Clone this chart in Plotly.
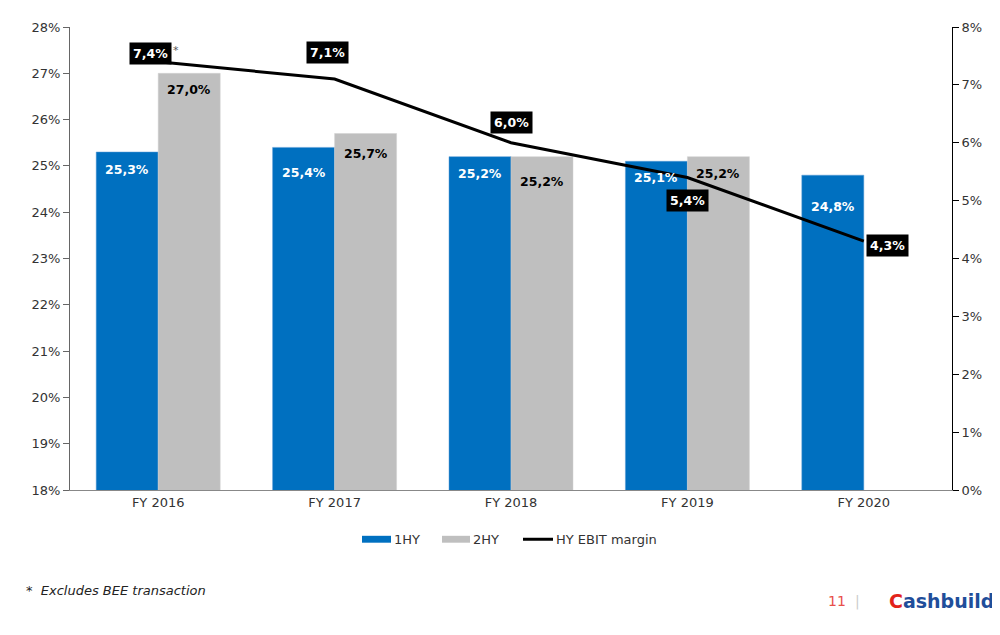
import plotly.graph_objects as go

# ---- data ----
categories = ["FY 2016", "FY 2017", "FY 2018", "FY 2019", "FY 2020"]
hy1 = [25.3, 25.4, 25.2, 25.1, 24.8]
hy2 = [27.0, 25.7, 25.2, 25.2, None]
ebit_margin = [7.4, 7.1, 6.0, 5.4, 4.3]
left_ticks = [18, 19, 20, 21, 22, 23, 24, 25, 26, 27, 28]
right_ticks = [0, 1, 2, 3, 4, 5, 6, 7, 8]
series_names = ["1HY", "2HY", "HY EBIT margin"]

def fmt(v):
    return f"{v:.1f}%".replace(".", ",")

# ---- styles ----
BLUE = "#0070C0"
GRAY = "#BFBFBF"
FONT = "DejaVu Sans"
hy1_label_drop = [17, 25, 17, 16, 31]
hy2_label_drop = [16, 20, 25, 17]
line_label_shift = [(-8, 8), (-7, 27), (0, 20), (0, -23), (24, -4)]
bar_half = 31

# page offset (browser body margin)
OFF = 8
W, H = 1000 - OFF, 635 - OFF
l, r, t, b = 70 - OFF, 48, 20 - OFF, 145
pw, ph = W - l - r, H - t - b
def px(x): return (x - OFF - l) / pw
def py(y): return (H - b - (y - OFF)) / ph

fig = go.Figure()
fig.add_trace(go.Bar(x=categories, y=hy1, name=series_names[0],
                     marker=dict(color=BLUE, line=dict(color="#5B9BD5", width=0.5))))
fig.add_trace(go.Bar(x=categories, y=hy2, name=series_names[1],
                     marker=dict(color=GRAY, line=dict(color="#D0D0D0", width=0.5))))
fig.add_trace(go.Scatter(x=categories, y=ebit_margin, name=series_names[2], mode="lines",
                         line=dict(color="black", width=3), yaxis="y2"))

annotations = []
for i, (c, v) in enumerate(zip(categories, hy1)):
    annotations.append(dict(x=c, y=v, xref="x", yref="y", text=f"<b>{fmt(v)}</b>", showarrow=False,
                            xshift=-bar_half, yshift=-hy1_label_drop[i], yanchor="middle",
                            font=dict(family=FONT, size=12.5, color="white")))
for i, (c, v) in enumerate(zip(categories, hy2)):
    if v is None:
        continue
    annotations.append(dict(x=c, y=v, xref="x", yref="y", text=f"<b>{fmt(v)}</b>", showarrow=False,
                            xshift=bar_half, yshift=-hy2_label_drop[i], yanchor="middle",
                            font=dict(family=FONT, size=12.5, color="black")))
for i, (c, v) in enumerate(zip(categories, ebit_margin)):
    dx, dy = line_label_shift[i]
    annotations.append(dict(x=c, y=v, xref="x", yref="y2", text=f"<b>{fmt(v)}</b>", showarrow=False,
                            xshift=dx, yshift=dy, yanchor="middle", bgcolor="black", borderpad=3,
                            font=dict(family=FONT, size=12.5, color="white")))
annotations.append(dict(x=categories[0], y=ebit_margin[0], xref="x", yref="y2", text="*", showarrow=False,
                        xshift=18, yshift=11, font=dict(family=FONT, size=11, color="#555555")))
# footnote
annotations.append(dict(x=px(24), y=py(592), xref="paper", yref="paper",
                        text="<i>*  Excludes BEE transaction</i>", showarrow=False,
                        xanchor="left", yanchor="middle", font=dict(family=FONT, size=13, color="#222222")))
# page number and logo
annotations.append(dict(x=px(848), y=py(603), xref="paper", yref="paper", text="11", showarrow=False,
                        xanchor="right", yanchor="middle", font=dict(family=FONT, size=14, color="#E8504A")))
annotations.append(dict(x=px(857), y=py(603), xref="paper", yref="paper", text="|", showarrow=False,
                        xanchor="center", yanchor="middle", font=dict(family=FONT, size=14, color="#CCCCCC")))
annotations.append(dict(x=px(996), y=py(603), xref="paper", yref="paper",
                        text="<b><span style='color:#E2231A'>C</span>ashbuild</b>", showarrow=False,
                        xanchor="right", yanchor="middle", font=dict(family=FONT, size=19, color="#1F4E9A")))

# custom legend (wide swatches like the reference)
shapes = []
leg_y = 540
leg_items = [(362, 391, "rect", BLUE), (442, 470, "rect", GRAY), (523, 553, "line", "black")]
for (x0, x1, kind, col), name in zip(leg_items, series_names):
    if kind == "rect":
        shapes.append(dict(type="rect", xref="paper", yref="paper", x0=px(x0), x1=px(x1),
                           y0=py(leg_y + 3.5), y1=py(leg_y - 3.5), fillcolor=col, line=dict(width=0)))
    else:
        shapes.append(dict(type="line", xref="paper", yref="paper", x0=px(x0), x1=px(x1),
                           y0=py(leg_y), y1=py(leg_y), line=dict(color=col, width=3)))
    annotations.append(dict(x=px(x1 + 1), y=py(leg_y), xref="paper", yref="paper", text=name,
                            showarrow=False, xanchor="left", yanchor="middle",
                            font=dict(family=FONT, size=13, color="#333333")))

fig.update_layout(
    width=W, height=H,
    margin=dict(l=l, r=r, t=t, b=b),
    paper_bgcolor="white", plot_bgcolor="white",
    barmode="group", bargap=0.297, bargroupgap=0,
    font=dict(family=FONT, size=13, color="#333333"),
    showlegend=False,
    annotations=annotations, shapes=shapes,
    xaxis=dict(type="category", showline=True, linecolor="#888888", linewidth=1, ticks="",
               tickfont=dict(family=FONT, size=13, color="#333333")),
    yaxis=dict(range=[18, 28], tickvals=left_ticks, ticktext=[f"{v}%" for v in left_ticks],
               showgrid=False, zeroline=False, showline=True, linecolor="#666666", linewidth=1,
               ticks="outside", ticklen=6, tickcolor="#666666",
               tickfont=dict(family=FONT, size=13, color="#333333")),
    yaxis2=dict(range=[0, 8], tickvals=right_ticks, ticktext=[f"{v}%" for v in right_ticks],
                overlaying="y", side="right", showgrid=False, zeroline=False, showline=True,
                linecolor="black", linewidth=1, ticks="outside", ticklen=6, tickcolor="black",
                tickfont=dict(family=FONT, size=13, color="#333333")),
)

fig.write_html("out.html")
